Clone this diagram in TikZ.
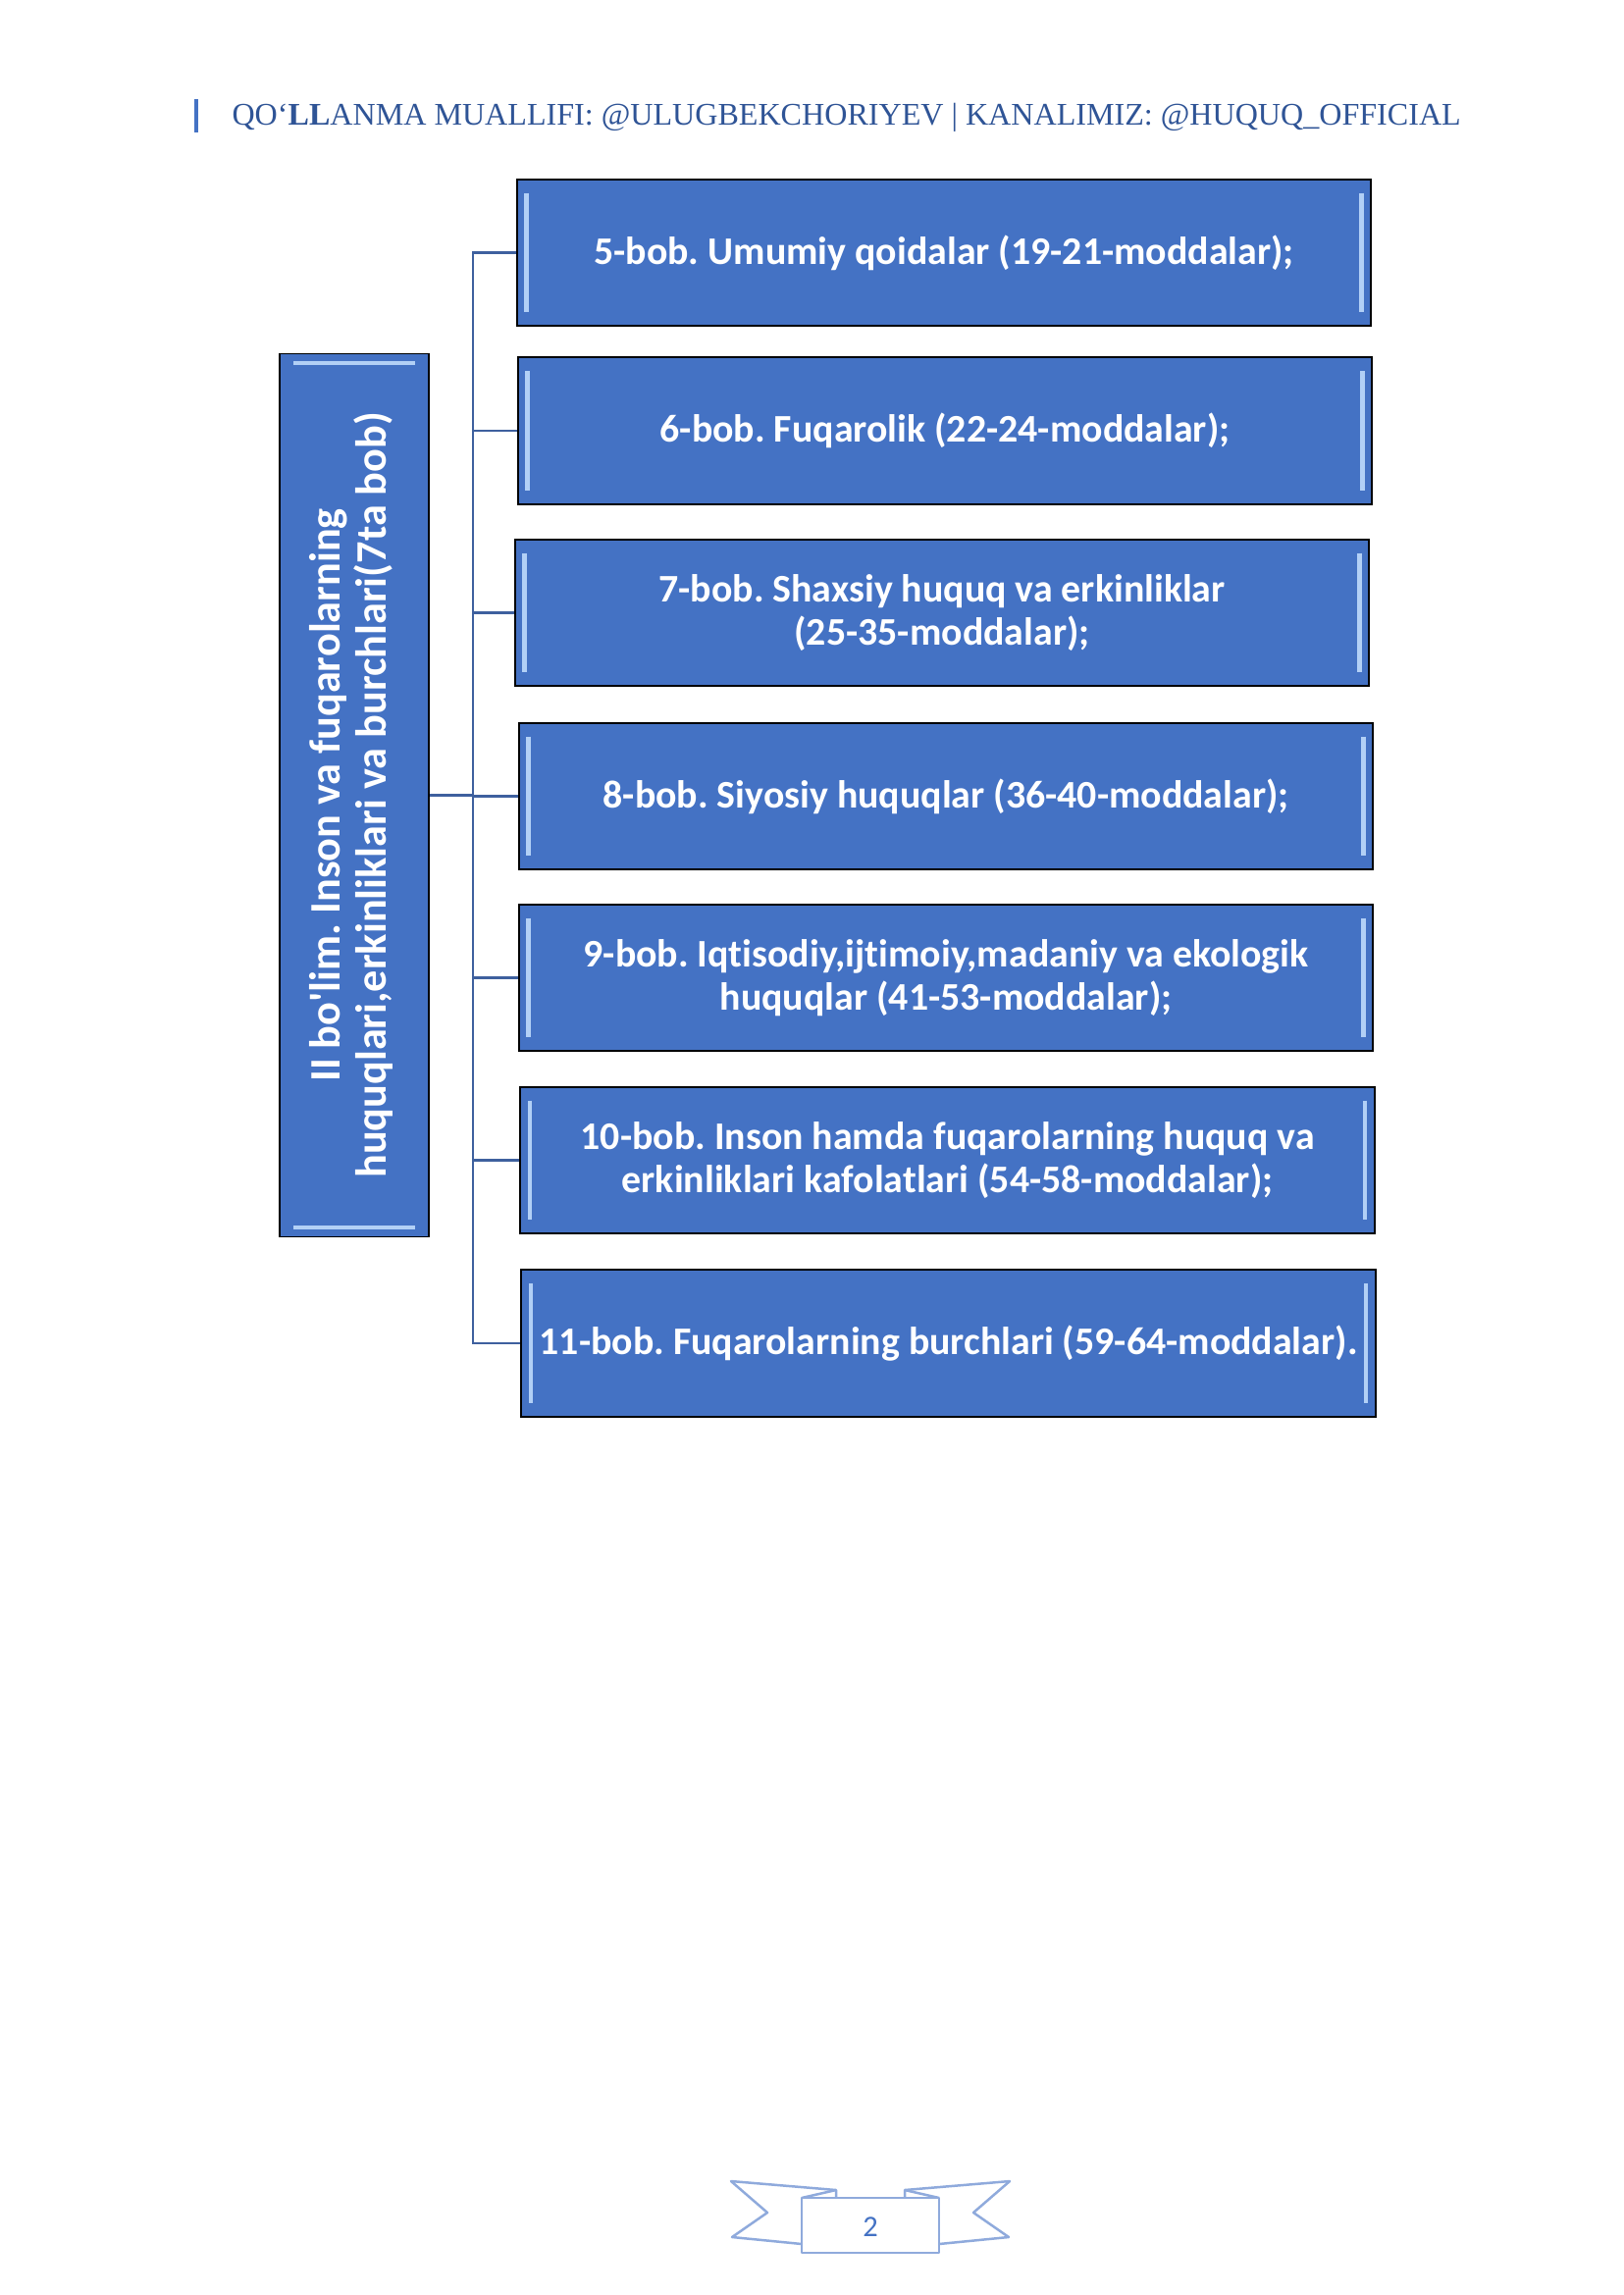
\documentclass[tikz,border=0pt]{standalone}
\usepackage{fontspec}
\setmainfont{Liberation Serif}
\newfontfamily\calfont{Carlito}[Ligatures={NoCommon}]
\usepackage{tikz}
\frenchspacing

\definecolor{boxblue}{RGB}{68,114,196}
\definecolor{linkblue}{RGB}{62,96,158}
\definecolor{headblue}{RGB}{47,84,150}
\definecolor{bevellight}{RGB}{178,208,246}
\definecolor{ribbonblue}{RGB}{143,170,220}

\tikzset{
  bevel/.style={line width=1.6pt, draw=bevellight},
  bob/.style={shape=rectangle, draw=black, line width=0.7pt, fill=boxblue, text=white,
    minimum width=110.5mm, minimum height=19mm, inner sep=2pt, align=center,
    font=\calfont\bfseries\fontsize{14.4}{15.7}\selectfont,
    path picture={
      \draw[bevel] ([xshift=3.4pt,yshift=-5pt]path picture bounding box.north west)
        -- ([xshift=3.4pt,yshift=5pt]path picture bounding box.south west);
      \draw[bevel] ([xshift=-3.4pt,yshift=-5pt]path picture bounding box.north east)
        -- ([xshift=-3.4pt,yshift=5pt]path picture bounding box.south east);
    }},
  partbox/.style={shape=rectangle, draw=black, line width=0.7pt, fill=boxblue, text=white,
    minimum width=19.2mm, minimum height=114.3mm, inner sep=0pt,
    font=\calfont\bfseries\fontsize{16}{16.4}\selectfont,
    path picture={
      \draw[bevel] ([xshift=5pt,yshift=-3.4pt]path picture bounding box.north west)
        -- ([xshift=-5pt,yshift=-3.4pt]path picture bounding box.north east);
      \draw[bevel] ([xshift=5pt,yshift=3.4pt]path picture bounding box.south west)
        -- ([xshift=-5pt,yshift=3.4pt]path picture bounding box.south east);
    }},
  link/.style={draw=linkblue, line width=0.8pt},
  ribbon/.style={draw=ribbonblue, line width=0.9pt, fill=white, line join=round}
}

\begin{document}
\begin{tikzpicture}[x=0.127mm, y=-0.127mm]
	\useasboundingbox (0,0) rectangle (1654,2339);

	% header
	\draw[line width=1.5pt, boxblue] (200,101) -- (200,135);
	\node[anchor=base west, inner sep=0pt, text=headblue, font=\fontsize{11.6}{14}\selectfont] (hdr) at (236,128)
		{QO‘\textbf{LL}ANMA MUALLIFI: @ULUGBEKCHORIYEV | KANALIMIZ: @HUQUQ\_OFFICIAL};

	% part
	\node[partbox] (part) at (361, 810.5)
		{\rotatebox{90}{\begin{tabular}{@{}c@{}}II bo\textquotesingle lim. Inson va fuqarolarning\\ huquqlari,erkinliklari va burchlari(7ta bob)\end{tabular}}};

	% chapters
	\node[bob] (b5)  at (962, 257.5)  {5-bob. Umumiy qoidalar (19-21-moddalar);};
	\node[bob] (b6)  at (963, 439)    {6-bob. Fuqarolik (22-24-moddalar);};
	\node[bob] (b7)  at (960, 624.5)  {7-bob. Shaxsiy huquq va erkinliklar\\ (25-35-moddalar);};
	\node[bob] (b8)  at (964, 811.5)  {8-bob. Siyosiy huquqlar (36-40-moddalar);};
	\node[bob] (b9)  at (964, 996.5)  {9-bob. Iqtisodiy,ijtimoiy,madaniy va ekologik\\ huquqlar (41-53-moddalar);};
	\node[bob] (b10) at (965.5, 1182.5) {10-bob. Inson hamda fuqarolarning huquq va\\ erkinliklari kafolatlari (54-58-moddalar);};
	\node[bob] (b11) at (966.5, 1369) {11-bob. Fuqarolarning burchlari (59-64-moddalar).};

	% connectors
	\coordinate (jn) at (482, 810.5);
	\draw[link] (part.east) -- (jn);
	\foreach \n in {5,...,11}
		\draw[link] (jn) |- (b\n.west);

	% page number ribbon
	\draw[ribbon] (817,2287) -- (746,2280) -- (782,2255) -- (745,2223) -- (852,2232) -- (852,2242);
	\draw[ribbon] (957,2287) -- (1028,2280) -- (992,2255) -- (1029,2223) -- (922,2232) -- (922,2242);
	\draw[ribbon] (852,2232) -- (817,2240);
	\draw[ribbon] (922,2232) -- (957,2240);
	\draw[ribbon] (817,2240) -- (957,2240) -- (957,2296) -- (817,2296) -- cycle;
	\node[text=boxblue, font=\calfont\fontsize{11}{13}\selectfont] (pgnum) at (887,2270) {2};

\end{tikzpicture}
\end{document}
